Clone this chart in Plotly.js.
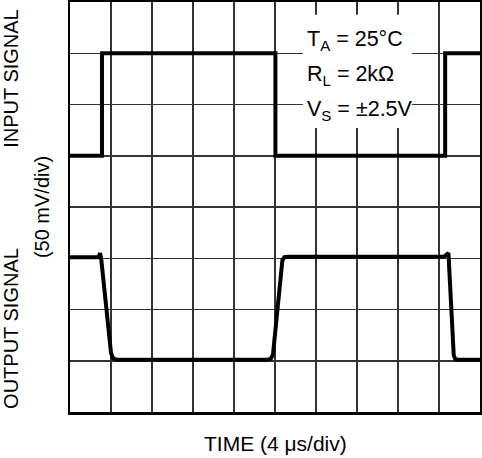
<!DOCTYPE html>
<html>
<head>
<meta charset="utf-8">
<script src="https://cdn.plot.ly/plotly-3.0.1.min.js"></script>
<style>html,body{margin:0;padding:0;background:#fff;}#chart{width:482px;height:458px;}</style>
</head>
<body>
<div id="chart"></div>
<script>
// Time in divisions (4 µs/div), level in divisions (50 mV/div)
const inputTime  = [0, 0.78, 0.78, 5.01, 5.01, 9.15, 9.15, 10];
const inputLevel = [5, 5, 7, 7, 5, 5, 7, 7];

const outputTime  = [0, 0.70, 0.73, 0.76, 1.00, 1.05, 1.14, 4.82, 4.90, 4.95, 5.18, 5.23, 5.32, 9.12, 9.20, 9.23, 9.36, 9.40, 9.47, 10];
const outputLevel = [3.02, 3.02, 3.10, 3.00, 1.15, 1.05, 1.02, 1.02, 1.04, 1.12, 2.96, 3.02, 3.03, 3.03, 3.08, 3.10, 1.10, 1.03, 1.02, 1.02];

const conditions = ['T<sub>A</sub> = 25°C', 'R<sub>L</sub> = 2kΩ', 'V<sub>S</sub> = ±2.5V'];
const conditionY = [7.25, 6.57, 5.89];

const FONT = 'Liberation Sans, Arial, sans-serif';

const traces = [
  {x: inputTime, y: inputLevel, mode: 'lines', line: {color: '#000', width: 4}, hoverinfo: 'skip'},
  {x: outputTime, y: outputLevel, mode: 'lines', line: {color: '#000', width: 4}, hoverinfo: 'skip'}
];

const annotations = conditions.map((t, i) => ({
  x: 5.72, y: conditionY[i], xref: 'x', yref: 'y', xanchor: 'left', yanchor: 'middle',
  text: t, showarrow: false, font: {family: FONT, size: 21.5, color: '#000'}
}));
annotations.push(
  {x: -0.144, y: 0.815, xref: 'paper', yref: 'paper', text: 'INPUT SIGNAL', textangle: -90,
   showarrow: false, xanchor: 'center', yanchor: 'middle', font: {family: FONT, size: 20, color: '#000'}},
  {x: -0.068, y: 0.5, xref: 'paper', yref: 'paper', text: '(50 mV/div)', textangle: -90,
   showarrow: false, xanchor: 'center', yanchor: 'middle', font: {family: FONT, size: 20, color: '#000'}},
  {x: -0.144, y: 0.205, xref: 'paper', yref: 'paper', text: 'OUTPUT SIGNAL', textangle: -90,
   showarrow: false, xanchor: 'center', yanchor: 'middle', font: {family: FONT, size: 20, color: '#000'}},
  {x: 0.5, y: -0.078, xref: 'paper', yref: 'paper', text: 'TIME (4 μs/div)',
   showarrow: false, xanchor: 'center', yanchor: 'middle', font: {family: FONT, size: 21, color: '#000'}}
);

const layout = {
  width: 482, height: 458,
  margin: {l: 70, r: 2, t: 2, b: 46},
  paper_bgcolor: '#fff', plot_bgcolor: '#fff',
  showlegend: false,
  xaxis: {range: [0, 10], dtick: 1, tick0: 0, showticklabels: false, ticks: '',
          showgrid: true, gridcolor: '#333', gridwidth: 1.5, zeroline: false,
          showline: true, linecolor: '#000', linewidth: 2.5, mirror: true, fixedrange: true},
  yaxis: {range: [0, 8], dtick: 1, tick0: 0, showticklabels: false, ticks: '',
          showgrid: true, gridcolor: '#333', gridwidth: 1.5, zeroline: false,
          showline: true, linecolor: '#000', linewidth: 2.5, mirror: true, fixedrange: true},
  shapes: [{type: 'rect', xref: 'x', yref: 'y', x0: 5.68, x1: 8.34, y0: 5.54, y1: 7.75,
            fillcolor: '#fff', line: {width: 0}, layer: 'between'}],
  annotations: annotations
};

Plotly.newPlot('chart', traces, layout, {staticPlot: true, displayModeBar: false});
</script>
</body>
</html>
